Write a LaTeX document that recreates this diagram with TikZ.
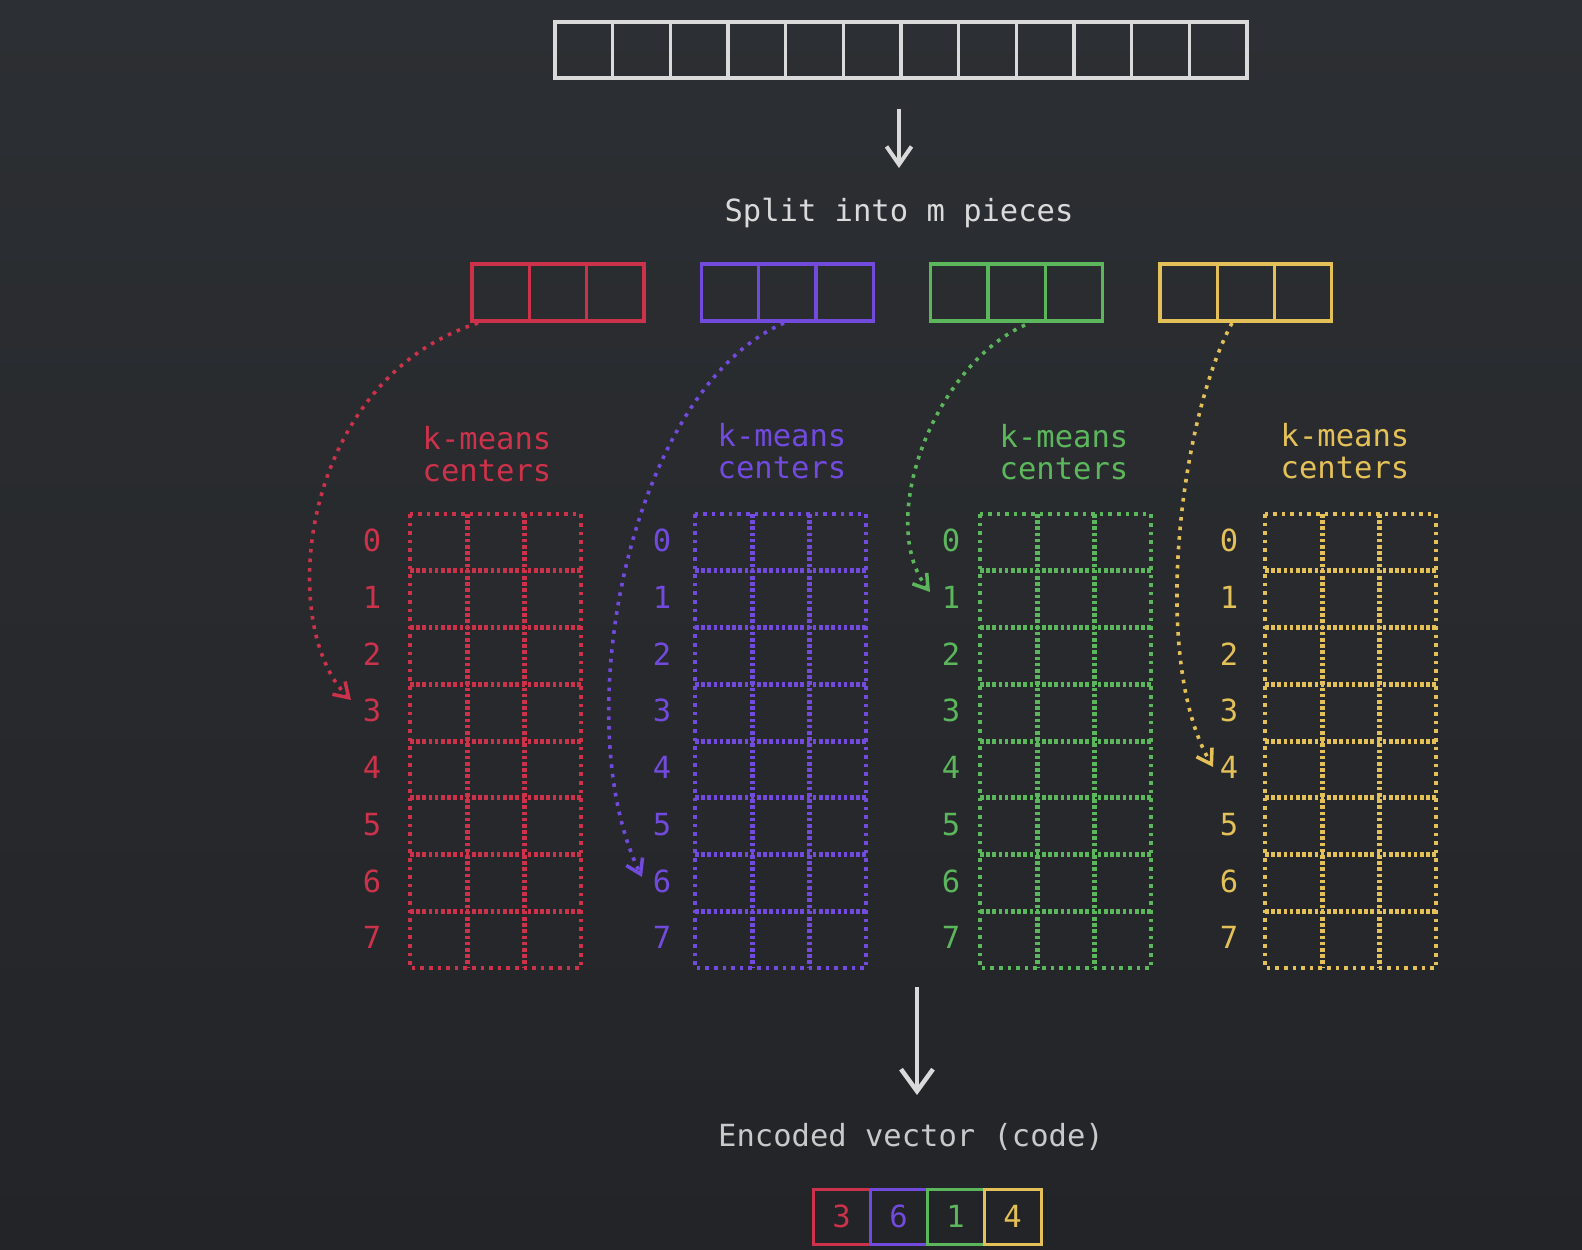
\documentclass[tikz,border=0pt]{standalone}
\usepackage{fontspec}
\setmonofont{DejaVu Sans Mono}
\usetikzlibrary{arrows.meta}
\definecolor{cred}{RGB}{204,50,74}
\definecolor{cpur}{RGB}{114,74,222}
\definecolor{cgrn}{RGB}{92,182,92}
\definecolor{cyel}{RGB}{228,192,88}
\definecolor{cwht}{RGB}{218,218,218}
\definecolor{bgtop}{RGB}{44,47,51}
\definecolor{bgbot}{RGB}{35,36,39}
\tikzset{
  mono/.style={font=\ttfamily\fontsize{30.5}{32}\selectfont},
  cellbox/.style={draw, line width=3.2pt, inner sep=0pt, outer sep=0pt, minimum width=57.3, minimum height=57},
  topcell/.style={draw=cwht, line width=3.5pt, inner sep=0pt, outer sep=0pt, minimum width=57.67, minimum height=56},
  codebox/.style={draw, line width=3pt, inner sep=0pt, outer sep=0pt, minimum width=57, minimum height=55, mono},
  outerdot/.style={line width=3.6pt, dash pattern=on 3.6pt off 5pt},
  innerdot/.style={line width=5pt, dash pattern=on 3.6pt off 2.6pt},
  idx/.style={mono, inner sep=0pt},
  curvearrow/.style={line width=3.6pt, dash pattern=on 3.6pt off 6pt, -{Straight Barb[length=14pt,width=18pt,line width=3.5pt]}},
  toparrow/.style={draw=cwht, line width=4pt, -{Straight Barb[length=18pt,width=25pt,line width=4pt]}},
  botarrow/.style={draw=cwht, line width=4.5pt, -{Straight Barb[length=22pt,width=32pt,line width=4.5pt]}},
  lbl/.style={mono, align=left, inner sep=0pt}
}
\begin{document}
\begin{tikzpicture}[x=1pt,y=-1pt]
\useasboundingbox (0,0) rectangle (1582,1250);
\shade[top color=bgtop, bottom color=bgbot] (0,0) rectangle (1582,1250);

% top vector
\foreach \k in {1,...,12} {
  \node[topcell] (t\k) at (555+57.67*\k-28.835, 50) {};
}
\coordinate (ta) at (899,109);
\coordinate (tb) at (899,168);
\draw[toparrow] (ta) -- (tb);
\node[mono, text=cwht] (split) at (899,213) {Split into m pieces};

% pieces
\foreach \g/\c in {0/cred,1/cpur,2/cgrn,3/cyel} {
  \foreach \k in {0,1,2} {
    \node[cellbox, draw=\c] (p\g\k) at (472+229.3*\g+57.3*\k+28.65, 292.5) {};
  }
}

% labels
\node[lbl, text=cred] (l0) at (487,454) {k-means\\centers};
\node[lbl, text=cpur] (l1) at (782,451) {k-means\\centers};
\node[lbl, text=cgrn] (l2) at (1064,452) {k-means\\centers};
\node[lbl, text=cyel] (l3) at (1345,451) {k-means\\centers};

% grids
\foreach \g/\c/\ix in {0/cred/372,1/cpur/662,2/cgrn/951,3/cyel/1229} {
  \pgfmathsetmacro\gx{410+285*\g}
  \draw[outerdot, \c] (\gx,514) rectangle (\gx+171,968);
  \foreach \k in {1,2} {
    \draw[innerdot, \c] (\gx+57*\k,514) -- (\gx+57*\k,968);
  }
  \foreach \k in {1,...,7} {
    \draw[innerdot, \c] (\gx,514+56.75*\k) -- (\gx+171,514+56.75*\k);
  }
  \foreach \k in {0,...,7} {
    \node[idx, text=\c] (n\g\k) at (\ix,540.5+56.75*\k) {\k};
  }
}

% curved arrows
\coordinate (ra) at (478,323);
\coordinate (rb) at (351,700);
\draw[curvearrow, cred] (ra) .. controls (300,380) and (275,625) .. (rb);
\coordinate (pa) at (784,323);
\coordinate (pb) at (642,877);
\draw[curvearrow, cpur] (pa) .. controls (630,390) and (565,720) .. (pb);
\coordinate (ga) at (1025,325);
\coordinate (gb) at (930,592);
\draw[curvearrow, cgrn] (ga) .. controls (935,365) and (875,520) .. (gb);
\coordinate (ya) at (1232,323);
\coordinate (yb) at (1213,767);
\draw[curvearrow, cyel] (ya) .. controls (1180,420) and (1150,660) .. (yb);

% bottom
\coordinate (ba) at (917,987);
\coordinate (bb) at (917,1095);
\draw[botarrow] (ba) -- (bb);
\node[mono, text=cwht!92!black] (enc) at (911,1137) {Encoded vector (code)};
\node[codebox, draw=cred, text=cred] (c0) at (841.5,1216.5) {3};
\node[codebox, draw=cpur, text=cpur] (c1) at (898.5,1216.5) {6};
\node[codebox, draw=cgrn, text=cgrn] (c2) at (955.5,1216.5) {1};
\node[codebox, draw=cyel, text=cyel] (c3) at (1012.5,1216.5) {4};
\end{tikzpicture}
\end{document}
